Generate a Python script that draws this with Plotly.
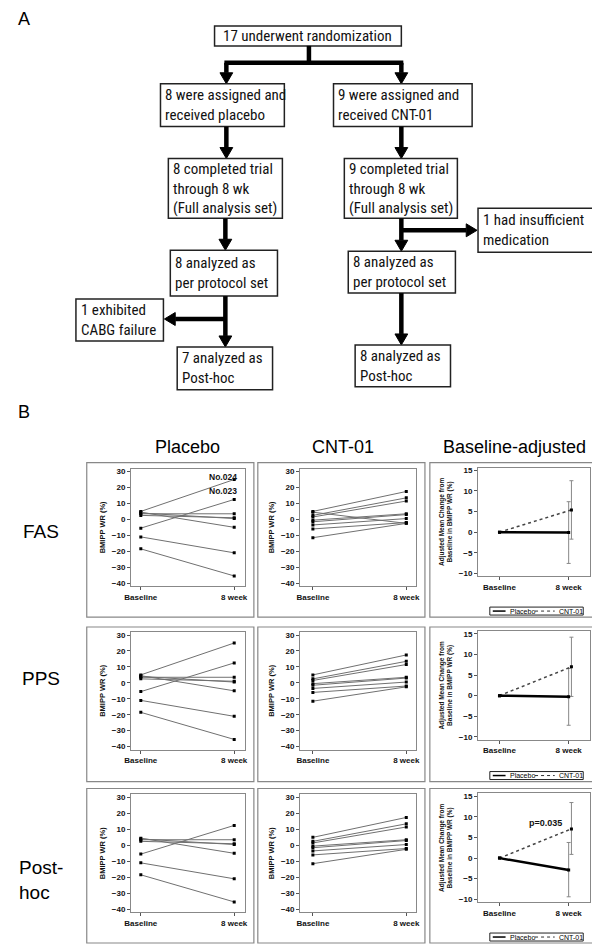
import plotly.graph_objects as go

# page is 600 x 949; the html body keeps an 8 px margin, so the figure is 592 x 941
W, H = 600, 949
OFF = 8

# ---------------- data ----------------
set_names = ["FAS", "PPS", "Post-hoc"]
row_labels = ["FAS", "PPS", "Post-<br>hoc"]
col_titles = ["Placebo", "CNT-01", "Baseline-adjusted"]
time_labels = ["Baseline", "8 week"]

# individual BMIPP WR (%) at baseline and 8 week
placebo_ids = ["No.024", "No.023", "", "", "", "", "", ""]
placebo_base = [5.0, -5.5, 3.5, 2.5, 4.0, 4.5, -11.0, -18.5]
placebo_wk8 = [25.0, 12.5, 3.5, 1.0, 0.5, -5.0, -21.0, -35.5]
cnt_base = [5.0, 2.5, 1.5, -0.5, -1.5, -3.5, -6.0, -11.5, 4.5]
cnt_wk8 = [17.5, 13.5, 11.5, 3.5, 3.0, 0.5, -2.0, -2.5, -2.5]

# which subjects enter each analysis set
placebo_members = [[0, 1, 2, 3, 4, 5, 6, 7], [0, 1, 2, 3, 4, 5, 6, 7], [1, 2, 3, 4, 5, 6, 7]]
cnt_members = [[0, 1, 2, 3, 4, 5, 6, 7, 8], [0, 1, 2, 3, 4, 5, 6, 7], [0, 1, 2, 3, 4, 5, 6, 7]]

# adjusted mean change from baseline (%) with 95% CI
adj_placebo_mean = [-0.1, -0.3, -2.9]
adj_placebo_lo = [-7.6, -7.2, -9.4]
adj_placebo_hi = [7.4, 6.6, 3.8]
adj_cnt_mean = [5.4, 7.0, 7.1]
adj_cnt_lo = [-1.7, -0.2, 0.9]
adj_cnt_hi = [12.5, 14.2, 13.5]
p_labels = ["", "", "p=0.035"]

# flow chart texts
flow_top = "17 underwent randomization"
flow_assigned = ["8 were assigned and<br>received placebo", "9 were assigned and<br>received CNT-01"]
flow_fas = ["8 completed trial<br>through 8 wk<br>(Full analysis set)",
            "9 completed trial<br>through 8 wk<br>(Full analysis set)"]
flow_pps = ["8 analyzed as<br>per protocol set", "8 analyzed as<br>per protocol set"]
flow_post = ["7 analyzed as<br>Post-hoc", "8 analyzed as<br>Post-hoc"]
flow_excl = ["1 exhibited<br>CABG failure", "1 had insufficient<br>medication"]

FLOW_FONT = "Liberation Sans Narrow, Roboto Condensed, Liberation Sans, sans-serif"
FONT = "Liberation Sans, Arial, sans-serif"


def px(x):
    return (x - OFF) / (W - OFF)


def py(y):
    return 1 - (y - OFF) / (H - OFF)


shapes = []
annotations = []


def text(x, y, s, size, xanchor="center", bold=False, family=FONT, color="black"):
    annotations.append(dict(xref="paper", yref="paper", x=px(x), y=py(y), text=s,
                            showarrow=False, xanchor=xanchor, yanchor="middle", align="left",
                            font=dict(family=family, size=size, color=color,
                                      weight="bold" if bold else "normal")))


def rect(x0, y0, x1, y1, color="#222", width=1.5):
    shapes.append(dict(type="rect", xref="paper", yref="paper", x0=px(x0), x1=px(x1),
                       y0=py(y1), y1=py(y0), line=dict(color=color, width=width)))


def seg(x0, y0, x1, y1, width=4.5, color="black", dash="solid"):
    shapes.append(dict(type="line", xref="paper", yref="paper", x0=px(x0), y0=py(y0),
                       x1=px(x1), y1=py(y1), line=dict(color=color, width=width, dash=dash)))


def arrow(x0, y0, x1, y1, head=11, half=6.5):
    dx = (x1 > x0) - (x1 < x0)
    dy = (y1 > y0) - (y1 < y0)
    bx, by = x1 - dx * head, y1 - dy * head
    seg(x0, y0, bx, by)
    if dx:
        pts = [(x1, y1), (bx, y1 - half), (bx, y1 + half)]
    else:
        pts = [(x1, y1), (x1 - half, by), (x1 + half, by)]
    path = "M " + " L ".join(f"{px(a)},{py(b)}" for a, b in pts) + " Z"
    shapes.append(dict(type="path", xref="paper", yref="paper", path=path,
                       fillcolor="black", line=dict(color="black", width=1)))


def box(x0, y0, x1, y1, s, center=False):
    rect(x0, y0, x1, y1)
    if center:
        text((x0 + x1) / 2, (y0 + y1) / 2, s, 15, family=FLOW_FONT, color="#111")
    else:
        text(x0 + 3, (y0 + y1) / 2, s, 15, xanchor="left", family=FLOW_FONT, color="#111")


# ---------------- panel A: flow chart ----------------
text(10, 18, "A", 18, xanchor="left")
box(212, 25, 402, 45, flow_top, center=True)
seg(308, 45, 308, 62)
seg(222, 62, 404, 62)
arrow(224, 62, 224, 83)
arrow(402, 62, 402, 83)
box(157, 83, 283, 126, flow_assigned[0])
box(333, 83, 474, 126, flow_assigned[1])
arrow(224, 126, 224, 158)
arrow(402, 126, 402, 158)
box(165, 158, 281, 218, flow_fas[0])
box(344, 158, 459, 218, flow_fas[1])
arrow(223, 218, 223, 250)
arrow(402, 218, 402, 251)
arrow(402, 230, 479, 230)
box(480, 208, 598, 252, flow_excl[1])
box(167, 250, 276, 296, flow_pps[0])
box(348, 251, 457, 293, flow_pps[1])
arrow(223, 296, 223, 347)
arrow(223, 319, 161, 319)
box(71, 299, 160, 341, flow_excl[0])
box(174, 347, 271, 390, flow_post[0])
arrow(402, 293, 402, 345)
box(355, 345, 452, 387, flow_post[1])

# ---------------- panel B: small multiples ----------------
text(10, 412, "B", 18, xanchor="left")
for cx, t in zip([184, 343, 517], col_titles):
    text(cx, 447, t, 18)

cols_outer = [(82, 252), (256, 426), (431, 597)]
rows_outer = [(463, 618), (628, 783), (790, 945)]
cols_frame = [(127, 243), (299, 417), (480, 594)]
row_frame_top = [469, 633, 796]
row_label_y = [532, 680, 882]
x_ranges = [[-0.105, 1.116], [-0.137, 1.105], [-0.31, 1.31]]

fig = go.Figure()
layout_axes = {}

for r in range(3):
    text(35, row_label_y[r], row_labels[r], 19)
    for c in range(3):
        rect(cols_outer[c][0], rows_outer[r][0], cols_outer[c][1], rows_outer[r][1],
             color="#888", width=1.2)
        i = r * 3 + c + 1
        xa = "x" if i == 1 else f"x{i}"
        ya = "y" if i == 1 else f"y{i}"
        if c < 2:
            top, bot = row_frame_top[r], row_frame_top[r] + 118
            yr, ytick = [-41.9, 31.9], list(range(-40, 31, 10))
            ytitle = "BMIPP WR (%)"
            tsize = 7.5
        else:
            top, bot = row_frame_top[r] - 1, row_frame_top[r] + 108
            yr, ytick = [-10.7, 15.7], list(range(-10, 16, 5))
            ytitle = "Adjusted Mean Change from<br>Baseline in BMIPP WR (%)"
            tsize = 6.5
        common = dict(showline=True, mirror=True, linecolor="#888", linewidth=1,
                      ticks="outside", ticklen=3, tickcolor="#555", showgrid=False,
                      zeroline=False, fixedrange=True,
                      tickfont=dict(family=FONT, size=8, color="#111", weight="bold"))
        layout_axes["xaxis" if i == 1 else f"xaxis{i}"] = dict(
            domain=[px(cols_frame[c][0]), px(cols_frame[c][1])], range=x_ranges[c],
            tickvals=[0, 1], ticktext=time_labels, anchor=ya, **common)
        layout_axes["yaxis" if i == 1 else f"yaxis{i}"] = dict(
            domain=[py(bot), py(top)], range=yr, tickvals=ytick, anchor=xa,
            title=dict(text=ytitle, standoff=5,
                       font=dict(family=FONT, size=tsize, color="#111", weight="bold")),
            **common)

        if c == 0:
            for k in placebo_members[r]:
                fig.add_trace(go.Scatter(
                    x=[0, 1], y=[placebo_base[k], placebo_wk8[k]], xaxis=xa, yaxis=ya,
                    mode="lines+markers", line=dict(color="#707070", width=1),
                    marker=dict(color="black", size=3, symbol="square"), showlegend=False))
                if r == 0 and placebo_ids[k]:
                    annotations.append(dict(
                        xref=xa, yref=ya, x=1, y=placebo_wk8[k], text=placebo_ids[k],
                        showarrow=False, xanchor="right", yanchor="middle", xshift=5,
                        yshift=3 if k == 0 else 8,
                        font=dict(family=FONT, size=8.5, color="#111", weight="bold")))
        elif c == 1:
            for k in cnt_members[r]:
                fig.add_trace(go.Scatter(
                    x=[0, 1], y=[cnt_base[k], cnt_wk8[k]], xaxis=xa, yaxis=ya,
                    mode="lines+markers", line=dict(color="#707070", width=1),
                    marker=dict(color="black", size=3, symbol="square"), showlegend=False))
        else:
            pm, cm = adj_placebo_mean[r], adj_cnt_mean[r]
            fig.add_trace(go.Scatter(
                x=[1], y=[pm], xaxis=xa, yaxis=ya, mode="markers",
                marker=dict(size=1, color="rgba(0,0,0,0)"),
                error_y=dict(type="data", symmetric=False, array=[adj_placebo_hi[r] - pm],
                             arrayminus=[pm - adj_placebo_lo[r]], color="#888",
                             thickness=1, width=2), showlegend=False))
            fig.add_trace(go.Scatter(
                x=[1.04], y=[cm], xaxis=xa, yaxis=ya, mode="markers",
                marker=dict(size=1, color="rgba(0,0,0,0)"),
                error_y=dict(type="data", symmetric=False, array=[adj_cnt_hi[r] - cm],
                             arrayminus=[cm - adj_cnt_lo[r]], color="#888",
                             thickness=1, width=2), showlegend=False))
            fig.add_trace(go.Scatter(
                x=[0, 1.04], y=[0, cm], xaxis=xa, yaxis=ya, mode="lines+markers",
                line=dict(color="#444", width=1.5, dash="dot"),
                marker=dict(color="black", size=3, symbol="square"), showlegend=False))
            fig.add_trace(go.Scatter(
                x=[0, 1], y=[0, pm], xaxis=xa, yaxis=ya, mode="lines+markers",
                line=dict(color="black", width=2.5),
                marker=dict(color="black", size=3, symbol="square"), showlegend=False))
            if p_labels[r]:
                annotations.append(dict(
                    xref=xa, yref=ya, x=1, y=cm, text=p_labels[r], showarrow=False,
                    xanchor="right", yanchor="middle", xshift=-5, yshift=6,
                    font=dict(family=FONT, size=9, color="#111", weight="bold")))
            # legend box
            yc = rows_outer[r][1] - 6
            rect(492, yc - 4, 587, yc + 4, color="#222", width=1)
            seg(495, yc, 508, yc, width=1.5)
            text(510, yc, "Placebo", 7, xanchor="left")
            seg(538, yc, 558, yc, width=1, dash="dot", color="#333")
            text(560, yc, "CNT-01", 7, xanchor="left")

fig.update_layout(
    width=W - OFF, height=H - OFF,
    margin=dict(l=0, r=0, t=0, b=0),
    paper_bgcolor="white", plot_bgcolor="white",
    shapes=shapes, annotations=annotations,
    showlegend=False,
    **layout_axes,
)

fig.write_html("out.html")
